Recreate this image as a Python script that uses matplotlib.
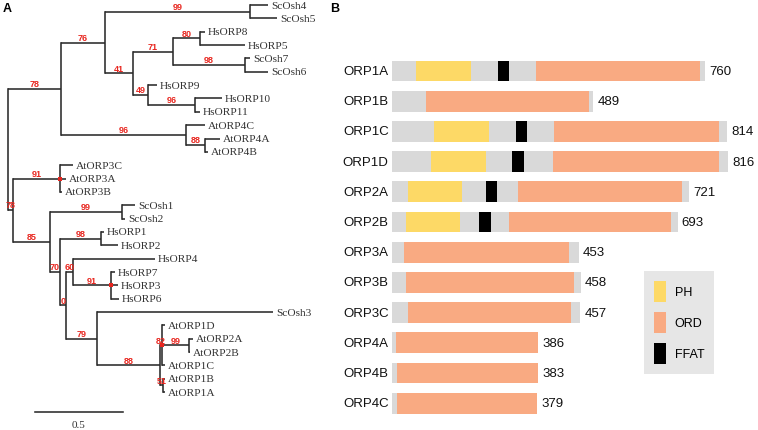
import numpy as np
import matplotlib.pyplot as plt
from matplotlib.patches import Patch

plt.rcParams['font.family'] = ['Liberation Sans', 'DejaVu Sans']

# --- panel A: ORP tree (newick, bootstrap support on internal nodes) ---
tree_newick = (
    "((((ScOsh4:0.102,ScOsh5:0.153)99:0.824,"
    "(((HsORP8:0.028,HsORP5:0.256)80:0.153,(ScOsh7:0.028,ScOsh6:0.131)98:0.409)71:0.227,"
    "(HsORP9:0.051,(HsORP10:0.153,HsORP11:0.028)96:0.267)49:0.085)41:0.159)76:0.250,"
    "(AtORP4C:0.108,(AtORP4A:0.085,AtORP4B:0.017)88:0.108)96:0.710)78:0.301,"
    "((AtORP3C:0.074,AtORP3A:0.034,AtORP3B:0.011)91:0.267,"
    "((ScOsh1:0.074,ScOsh2:0.017)99:0.409,"
    "((HsORP1:0.017,HsORP2:0.097)98:0.233,"
    "((HsORP4:0.466,(HsORP7:0.023,HsORP3:0.040,HsORP6:0.045)91:0.216)60:0.040,"
    "(ScOsh3:1.000,((AtORP1D:0.017,(AtORP2A:0.023,AtORP2B:0.006)99:0.153,AtORP1C:0.017)82:0.011,"
    "(AtORP1B:0.011,AtORP1A:0.011)51:0.017)88:0.358)79:0.176)0:0.034)70:0.057)85:0.210)78:0.028);"
)
# clades with a red dot (first leaf, last leaf)
marked_clades = [('AtORP3C', 'AtORP3B'), ('HsORP7', 'HsORP6'), ('AtORP1D', 'AtORP1C')]
scale_len = 0.5

# --- panel B: domain architecture (aa positions) ---
proteins = ['ORP1A', 'ORP1B', 'ORP1C', 'ORP1D', 'ORP2A', 'ORP2B',
            'ORP3A', 'ORP3B', 'ORP3C', 'ORP4A', 'ORP4B', 'ORP4C']
lengths = [760, 489, 814, 816, 721, 693, 453, 458, 457, 386, 383, 379]
bar_ends = [760, 489, 814, 816, 721, 693, 453, 458, 457, 354, 354, 352]
ph_dom = [(58, 192), None, (102, 235), (95, 228), (39, 170), (34, 165),
          None, None, None, None, None, None]
ffat_dom = [(257, 284), None, (301, 328), (291, 320), (228, 255), (211, 240),
            None, None, None, None, None, None]
ord_dom = [(350, 748), (83, 478), (393, 794), (391, 794), (306, 704), (284, 677),
           (29, 430), (34, 442), (39, 434), (10, 354), (12, 354), (12, 352)]

c_gray = '#d9d9d9'
c_ph = '#fdd966'
c_ord = '#f9aa82'
c_ffat = '#000000'
c_red = '#e8261f'


def parse_newick(s):
    pos = 0

    def node():
        nonlocal pos
        n = {'children': [], 'name': '', 'bl': 0.0}
        if s[pos] == '(':
            pos += 1
            while True:
                n['children'].append(node())
                if s[pos] == ',':
                    pos += 1
                    continue
                pos += 1
                break
        start = pos
        while s[pos] not in ':,);':
            pos += 1
        n['name'] = s[start:pos]
        if s[pos] == ':':
            pos += 1
            start = pos
            while s[pos] not in ',);':
                pos += 1
            n['bl'] = float(s[start:pos])
        return n

    return node()


leaves = []


def layout(n, x0):
    n['x'] = x0 + n['bl']
    if n['children']:
        for c in n['children']:
            layout(c, n['x'])
        n['y'] = (n['children'][0]['y'] + n['children'][-1]['y']) / 2
        n['first'] = n['children'][0]['first']
        n['last'] = n['children'][-1]['last']
    else:
        n['y'] = len(leaves)
        n['first'] = n['last'] = n['name']
        leaves.append(n)


root = parse_newick(tree_newick)
layout(root, 0.0)

fig = plt.figure(figsize=(7.58, 4.31), dpi=100)

# tree axes: 176 px per branch-length unit, 13.35 px per leaf
ax = fig.add_axes([0, 0, 380 / 758, 1])
ax.set_xlim(-8 / 176, 372 / 176)
ax.set_ylim(425 / 13.35, -6 / 13.35)
ax.axis('off')

lc = '#2a2a2a'
lw = 1.15


def draw(n, px):
    if px is not None:
        ax.plot([px, n['x']], [n['y'], n['y']], color=lc, lw=lw, solid_capstyle='butt')
        if n['children'] and n['name']:
            ax.annotate(n['name'], ((px + n['x']) / 2, n['y']), xytext=(0, 0.6),
                        textcoords='offset points', ha='center', va='bottom',
                        color=c_red, fontsize=6.5, fontweight='bold')
    if n['children']:
        ax.plot([n['x'], n['x']], [n['children'][0]['y'], n['children'][-1]['y']],
                color=lc, lw=lw, solid_capstyle='projecting')
        for c in n['children']:
            draw(c, n['x'])
        if (n['first'], n['last']) in marked_clades:
            ax.plot(n['x'], n['y'], 's', color=c_red, ms=3, mew=0)
    else:
        ax.text(n['x'] + 0.018, n['y'], n['name'], ha='left', va='center',
                fontsize=8.2, family='Liberation Serif', color='#333333')


draw(root, None)

# scale bar
sb_x0 = 27 / 176
sb_y = 407 / 13.35
ax.plot([sb_x0, sb_x0 + scale_len], [sb_y, sb_y], color=lc, lw=lw)
ax.text(sb_x0 + scale_len / 2, sb_y + 0.95, str(scale_len), ha='center', va='center',
        fontsize=8, family='Liberation Serif', color='#333333')

# domain axes: 0.412 px per aa, 30.2 px per row
ax2 = fig.add_axes([380 / 758, 0, 378 / 758, 1])
ax2.set_xlim(-12 / 0.412, 366 / 0.412)
ax2.set_ylim(359 / 30.2, -72 / 30.2)
ax2.axis('off')

h = 0.695
ypos = np.arange(len(proteins))
ax2.barh(ypos, bar_ends, left=0, height=h, color=c_gray, lw=0)
for i in range(len(proteins)):
    for dom, col in ((ph_dom[i], c_ph), (ffat_dom[i], c_ffat), (ord_dom[i], c_ord)):
        if dom is not None:
            ax2.barh(i, dom[1] - dom[0], left=dom[0], height=h, color=col, lw=0)
    ax2.text(-8, i, proteins[i], ha='right', va='center', fontsize=9.5, color='#111111')
    ax2.text(bar_ends[i] + 10, i, str(lengths[i]), ha='left', va='center',
             fontsize=9.5, color='#111111')

handles = [Patch(facecolor=c_ph, lw=0), Patch(facecolor=c_ord, lw=0), Patch(facecolor=c_ffat, lw=0)]
leg = ax2.legend(handles, ['PH', 'ORD', 'FFAT'], loc='upper left',
                 bbox_to_anchor=(644 / 758, 1 - 272 / 431), bbox_transform=fig.transFigure,
                 frameon=True, facecolor='#e6e6e6', edgecolor='none', fancybox=False,
                 framealpha=1, borderpad=0.8, borderaxespad=0, handlelength=0.95,
                 handleheight=2.2, labelspacing=0.8, handletextpad=0.7,
                 prop={'size': 9})

fig.text(3 / 758, 1 - 9 / 431, 'A', fontsize=9, fontweight='bold', va='center', ha='left')
fig.text(330 / 758, 1 - 9 / 431, 'B', fontsize=9, fontweight='bold', va='center', ha='left')

fig.savefig('out.png', dpi=100)
